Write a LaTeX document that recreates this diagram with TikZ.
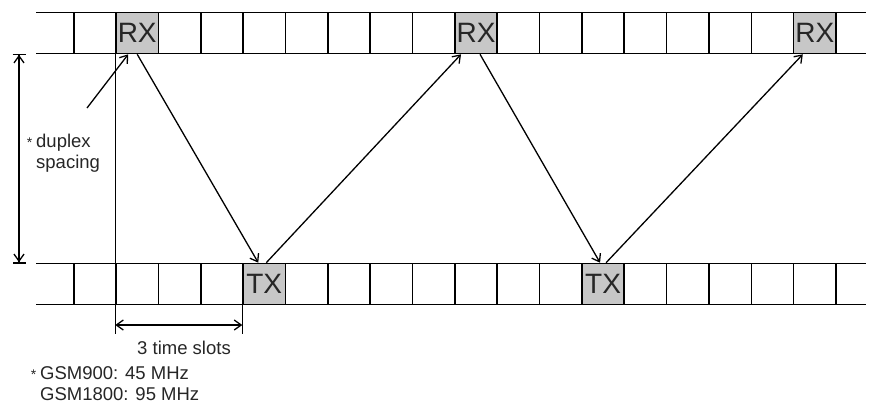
\documentclass[tikz,border=0pt]{standalone}
\usepackage{fontspec}
\setmainfont{Liberation Sans}
\usetikzlibrary{arrows.meta, positioning}
\tikzstyle{slot} = [rectangle, minimum width=42.35pt, minimum height=41pt, inner sep=0pt, draw=black, line width=1.6pt, font=\fontsize{28}{30}\selectfont]
\tikzstyle{busy} = [slot, fill=black!22, text=black!85]
\tikzstyle{arrow} = [line width=1.3pt,-{Straight Barb[length=7pt,width=10pt]}]
\tikzstyle{twoway} = [line width=1.3pt,{Straight Barb[length=7pt,width=10pt]}-{Straight Barb[length=7pt,width=10pt]}]
\tikzstyle{bracket} = [line width=1.3pt,{Bar[width=13pt,sep=0pt]Straight Barb[length=7pt,width=10pt]}-{Straight Barb[length=7pt,width=10pt,sep=0pt]Bar[width=13pt]}]
\tikzstyle{note} = [font=\fontsize{18.5}{21}\selectfont, text=black!85, inner sep=0pt]

\begin{document}
\begin{tikzpicture}[x=1pt, y=-1pt]
\useasboundingbox (0,0) rectangle (870,405);

% Time slot frames
\foreach \k in {0,...,17} {
  \node (top\k) [slot] at ({73.7+42.35*(\k+0.5)},33) {};
  \node (bot\k) [slot] at ({73.7+42.35*(\k+0.5)},284) {};
}
\draw [line width=1.6pt] (36,12.5) -- (866,12.5);
\draw [line width=1.6pt] (36,53.5) -- (866,53.5);
\draw [line width=1.6pt] (36,263.5) -- (866,263.5);
\draw [line width=1.6pt] (36,304.5) -- (866,304.5);

% Receive and transmit slots
\node (rx1) [busy] at (top1) {RX};
\node (rx2) [busy] at (top9) {RX};
\node (rx3) [busy] at (top17) {RX};
\node (tx1) [busy] at (bot4) {TX};
\node (tx2) [busy] at (bot12) {TX};

% Slot sequence
\draw [arrow] (rx1.south) -- ([xshift=-6pt]tx1.north);
\draw [arrow] ([xshift=2pt]tx1.north) -- ([xshift=-15pt]rx2.south);
\draw [arrow] ([xshift=4pt]rx2.south) -- ([xshift=-3pt]tx2.north);
\draw [arrow] ([xshift=3pt]tx2.north) -- ([xshift=-12pt]rx3.south);

% Duplex spacing
\coordinate (dupT) at (19,53.5);
\coordinate (dupB) at (19,263.5);
\draw [bracket] (dupT) -- (dupB);
\node (duplex) [note, anchor=west, align=left] at (36,153) {\llap{\fontsize{14}{14}\selectfont *\hspace{4pt}}duplex\\spacing};
\coordinate (ptr) at (87,108);
\draw [arrow] (ptr) -- ([xshift=-9pt]rx1.south);

% Three time slots
\coordinate (extA) at (rx1.south west |- 0,334);
\coordinate (extB) at (tx1.south west |- 0,334);
\coordinate (dimA) at (rx1.south west |- 0,325);
\coordinate (dimB) at (tx1.south west |- 0,325);
\draw [line width=1.3pt] (rx1.south west) -- (extA);
\draw [line width=1.3pt] (tx1.south west) -- (extB);
\draw [twoway] (dimA) -- (dimB);
\node (slots) [note] at (184,348) {3 time slots};

% Footnote
\node (gsm) [note, anchor=north west, align=left] at (40,366) {\llap{\fontsize{14}{14}\selectfont *\hspace{4pt}}GSM900: 45 MHz\\GSM1800: 95 MHz};

\end{tikzpicture}
\end{document}
